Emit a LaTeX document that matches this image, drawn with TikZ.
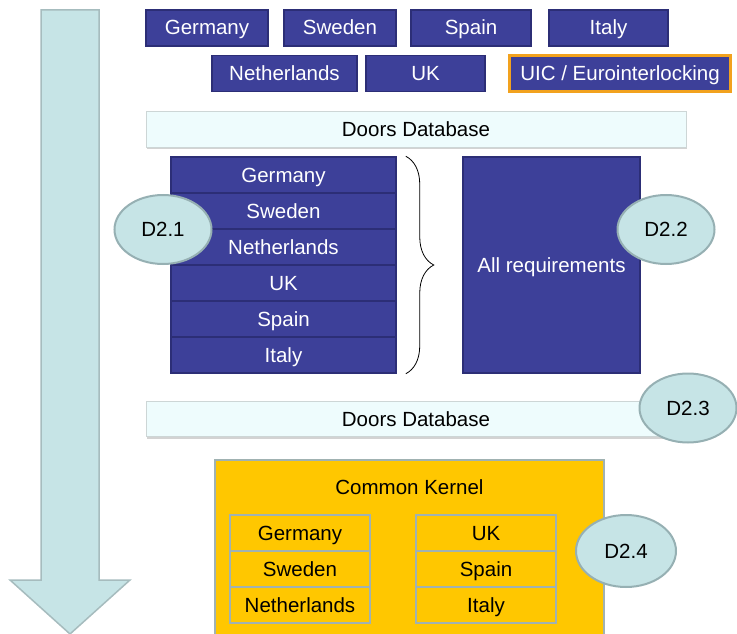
\documentclass[tikz,border=0pt]{standalone}
\usepackage{fontspec}
\setmainfont{Liberation Sans}
\usepackage{xcolor}
\usepackage{tikz}
\usetikzlibrary{positioning,shapes,fit}
\usetikzlibrary{calc}
\usetikzlibrary{shadows}
\usetikzlibrary{decorations.pathreplacing}

\definecolor{kblue}{RGB}{61,64,153}
\definecolor{kblueline}{RGB}{44,46,118}
\definecolor{dfill}{RGB}{198,228,230}
\definecolor{dline}{RGB}{150,176,179}
\definecolor{kyellow}{RGB}{255,199,0}
\definecolor{kgrey}{RGB}{160,178,178}
\definecolor{dbfill}{RGB}{238,252,253}
\definecolor{dbline}{RGB}{205,214,214}
\definecolor{korange}{RGB}{242,162,30}

\begin{document}
\begin{tikzpicture}[x=1pt,y=-1pt]
			\tikzset{
				every node/.style={font=\fontsize{20.5}{24}\selectfont,text height=18pt,text depth=4pt},
				cbox/.style={draw=kblueline,line width=1.5pt,fill=kblue,text=white,inner sep=0pt,minimum height=36pt},
				rowbox/.style={cbox,minimum width=225pt},
				dbbar/.style={draw=dbline,fill=dbfill,line width=1pt,inner sep=0pt,minimum width=540pt,minimum height=35pt,
					drop shadow={shadow xshift=1pt,shadow yshift=-2pt,opacity=0.35}},
				dlabel/.style={ellipse,draw=dline,line width=2pt,fill=dfill,inner sep=0pt,minimum width=97pt,minimum height=69pt},
				kcell/.style={draw=kgrey,line width=2pt,fill=kyellow,inner sep=0pt,minimum width=140pt,minimum height=36pt},
			}
			\useasboundingbox (0,0) rectangle (737,634);

			% flow arrow on the left
			\draw[fill=dfill,draw=dline!85,line width=1.5pt]
			(41,10) -- (99,10) -- (99,580) -- (130,580) -- (70,634) -- (10,580) -- (41,580) -- cycle;

			% countries
			\node[cbox,minimum width=122pt] (ge) at (207,28) {Germany};
			\node[cbox,minimum width=112pt] (sw) at (340,28) {Sweden};
			\node[cbox,minimum width=120pt] (sp) at (471,28) {Spain};
			\node[cbox,minimum width=119pt] (it) at (608.5,28) {Italy};
			\node[cbox,minimum width=145pt] (nl) at (284.5,73.5) {Netherlands};
			\node[cbox,minimum width=119pt] (uk) at (425.5,73.5) {UK};
			\node[cbox,draw=korange,line width=2.2pt,minimum width=221pt] (uic) at (620,73.5) {UIC / Eurointerlocking};

			% first database
			\node[dbbar] (db1) at (416,129.5) {Doors Database};

			\node[rowbox] (r1) at (283.5,175) {Germany};
			\node[rowbox] (r2) at (283.5,211) {Sweden};
			\node[rowbox] (r3) at (283.5,247) {Netherlands};
			\node[rowbox] (r4) at (283.5,283) {UK};
			\node[rowbox] (r5) at (283.5,319) {Spain};
			\node[rowbox] (r6) at (283.5,355) {Italy};
			\node[cbox,minimum width=177pt,minimum height=216pt] (all) at (551.5,265) {All requirements};

			\draw[decorate,decoration={brace,amplitude=28pt,aspect=0.5},line width=0.8pt]
			($(r1.north east)+(9,0)$) -- ($(r6.south east)+(9,0)$);

			\node[dlabel] (d21) at (163,229.5) {D2.1};
			\node[dlabel] (d22) at (666,229.5) {D2.2};

			% second database
			\node[dbbar] (db2) at (416,419) {Doors Database};
			\node[dlabel] (d23) at (688,408) {D2.3};

			% common kernel
			\draw[draw=kgrey,line width=2pt,fill=kyellow] (215,460) rectangle (604,640);
			\node (ck) at (409.5,487) {Common Kernel};
			\node[kcell] (k1) at (300,533) {Germany};
			\node[kcell] (k2) at (300,569) {Sweden};
			\node[kcell] (k3) at (300,605) {Netherlands};
			\node[kcell] (k4) at (486,533) {UK};
			\node[kcell] (k5) at (486,569) {Spain};
			\node[kcell] (k6) at (486,605) {Italy};
			\node[dlabel,minimum width=100pt,minimum height=72pt] (d24) at (626,551) {D2.4};
		\end{tikzpicture}
\end{document}
